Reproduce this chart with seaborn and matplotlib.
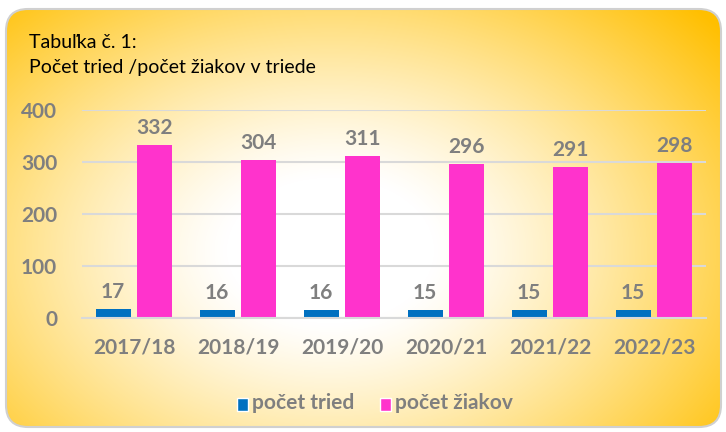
import numpy as np
import pandas as pd
import seaborn as sns
import matplotlib.pyplot as plt
from matplotlib.patches import FancyBboxPatch, Patch

# data
years = ["2017/18", "2018/19", "2019/20", "2020/21", "2021/22", "2022/23"]
tried = [17, 16, 16, 15, 15, 15]
ziakov = [332, 304, 311, 296, 291, 298]
series_names = ["počet tried", "počet žiakov"]
colors = ["#0070C0", "#FF33CC"]

df = pd.DataFrame({
    "rok": years * 2,
    "hodnota": tried + ziakov,
    "seria": [series_names[0]] * len(years) + [series_names[1]] * len(years),
})

sns.set_style("white")
plt.rcParams["font.family"] = ["Lato", "DejaVu Sans"]
grey = "#7F7F7F"

W, H = 726, 432
fig = plt.figure(figsize=(W / 100, H / 100), dpi=100)

# background: radial white->yellow gradient in a rounded box
bg = fig.add_axes([0, 0, 1, 1], zorder=-1)
bg.set_xlim(0, W)
bg.set_ylim(H, 0)
bg.axis("off")
xx, yy = np.meshgrid(np.arange(W), np.arange(H))
r = np.sqrt(((xx - 330) / 470.0) ** 2 + ((yy - 250) / 330.0) ** 2)
t = np.clip((r - 0.22) / 0.85, 0, 1) ** 1.2
yellow = np.array([1.0, 0.75, 0.0])
img = (1 - t)[..., None] * np.ones(3) + t[..., None] * yellow
box = FancyBboxPatch((6, 9), 715, 418, boxstyle="round,pad=0,rounding_size=22",
                     facecolor="none", edgecolor="#D0D0D0", linewidth=1.5)
bg.add_patch(box)
im = bg.imshow(img, extent=(0, W, H, 0), interpolation="bilinear")
im.set_clip_path(box)

bg.text(29, 42, "Tabuľka č. 1:", fontsize=14, color="black", va="center")
bg.text(29, 67, "Počet tried /počet žiakov v triede", fontsize=14, color="black", va="center")

ax = fig.add_axes([82 / W, (H - 318) / H, (706 - 82) / W, (318 - 110) / H])
ax.set_facecolor("none")
sns.barplot(data=df, x="rok", y="hodnota", hue="seria", palette=colors,
            width=0.8, gap=0.15, ax=ax, legend=False, saturation=1, linewidth=0)

for cont in ax.containers:
    ax.bar_label(cont, padding=5, fontsize=15, fontweight="bold", color=grey)

ax.set_ylim(0, 400)
ax.set_yticks([0, 100, 200, 300, 400])
ax.grid(axis="y", color="#D9D9D9", linewidth=1.5)
ax.set_axisbelow(True)
for s in ["top", "right", "left"]:
    ax.spines[s].set_visible(False)
ax.spines["bottom"].set_color("#D9D9D9")
ax.spines["bottom"].set_linewidth(1.5)
ax.tick_params(axis="both", length=0, labelsize=15, labelcolor=grey)
ax.tick_params(axis="y", pad=18)
ax.tick_params(axis="x", pad=14)
for lab in ax.get_xticklabels() + ax.get_yticklabels():
    lab.set_fontweight("bold")
ax.set_xlabel("")
ax.set_ylabel("")

handles = [Patch(facecolor=c, label=n) for c, n in zip(colors, series_names)]
leg = fig.legend(handles=handles, loc="center", bbox_to_anchor=(375 / W, (H - 403) / H),
                 ncol=2, frameon=False, handlelength=0.75, handleheight=1.05,
                 handletextpad=0.3, columnspacing=1.9)
for txt in leg.get_texts():
    txt.set_fontsize(15)
    txt.set_fontweight("bold")
    txt.set_color(grey)

fig.savefig("out.png", dpi=100)
